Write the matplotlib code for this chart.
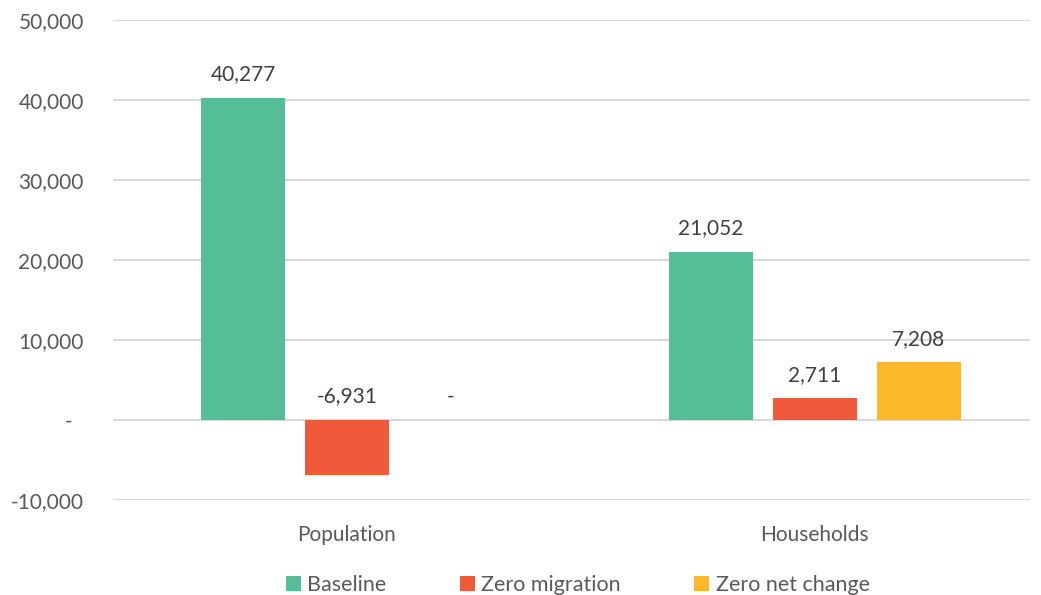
import matplotlib
matplotlib.use("Agg")
import matplotlib.pyplot as plt
from matplotlib.ticker import FuncFormatter

categories = ["Population", "Households"]
series_names = ["Baseline", "Zero migration", "Zero net change"]
baseline = [40277, 21052]
zero_migration = [-6931, 2711]
zero_net_change = [0, 7208]
colors = ["#55BE96", "#F05A3A", "#FBB829"]

plt.rcParams['font.family'] = ['Lato', 'DejaVu Sans']

fig = plt.figure(figsize=(10.41, 5.95), dpi=100)
ax = fig.add_axes([113/1041, 1-500/595, (1030-113)/1041, 480/595])

data = [baseline, zero_migration, zero_net_change]
offsets = [-0.222, 0.0, 0.222]
width = 0.18
xs = list(range(len(categories)))

def fmt(v):
    if v == 0:
        return "-"
    return f"{v:,.0f}"

for vals, off, col, name in zip(data, offsets, colors, series_names):
    pos = [x + off for x in xs]
    ax.bar(pos, vals, width=width, color=col, label=name, zorder=3)
    for p, v in zip(pos, vals):
        y = max(v, 0) + 1700
        ax.text(p, y, fmt(v), ha='center', va='bottom', fontsize=15, color='#404040')

ax.set_ylim(-10000, 50000)
ax.set_xlim(-0.5, 1.46)
ax.set_yticks(range(-10000, 50001, 10000))
ax.yaxis.set_major_formatter(FuncFormatter(lambda v, p: "-  " if v == 0 else f"{v:,.0f}"))
ax.grid(axis='y', color='#D9D9D9', linewidth=1.5, zorder=0)
ax.set_axisbelow(True)
for s in ax.spines.values():
    s.set_visible(False)
ax.tick_params(axis='both', length=0, labelsize=15, colors='#595959')
ax.tick_params(axis='y', pad=21)
ax.set_xticks(xs)
ax.set_xticklabels(categories)
ax.tick_params(axis='x', pad=18)

leg = fig.legend(loc='lower center', bbox_to_anchor=(0.555, -0.032), ncol=3, frameon=False,
                 fontsize=15.5, handlelength=0.7, handleheight=0.7, handletextpad=0.3,
                 columnspacing=3.4, labelcolor='#595959')

fig.savefig("out.png", dpi=100)
